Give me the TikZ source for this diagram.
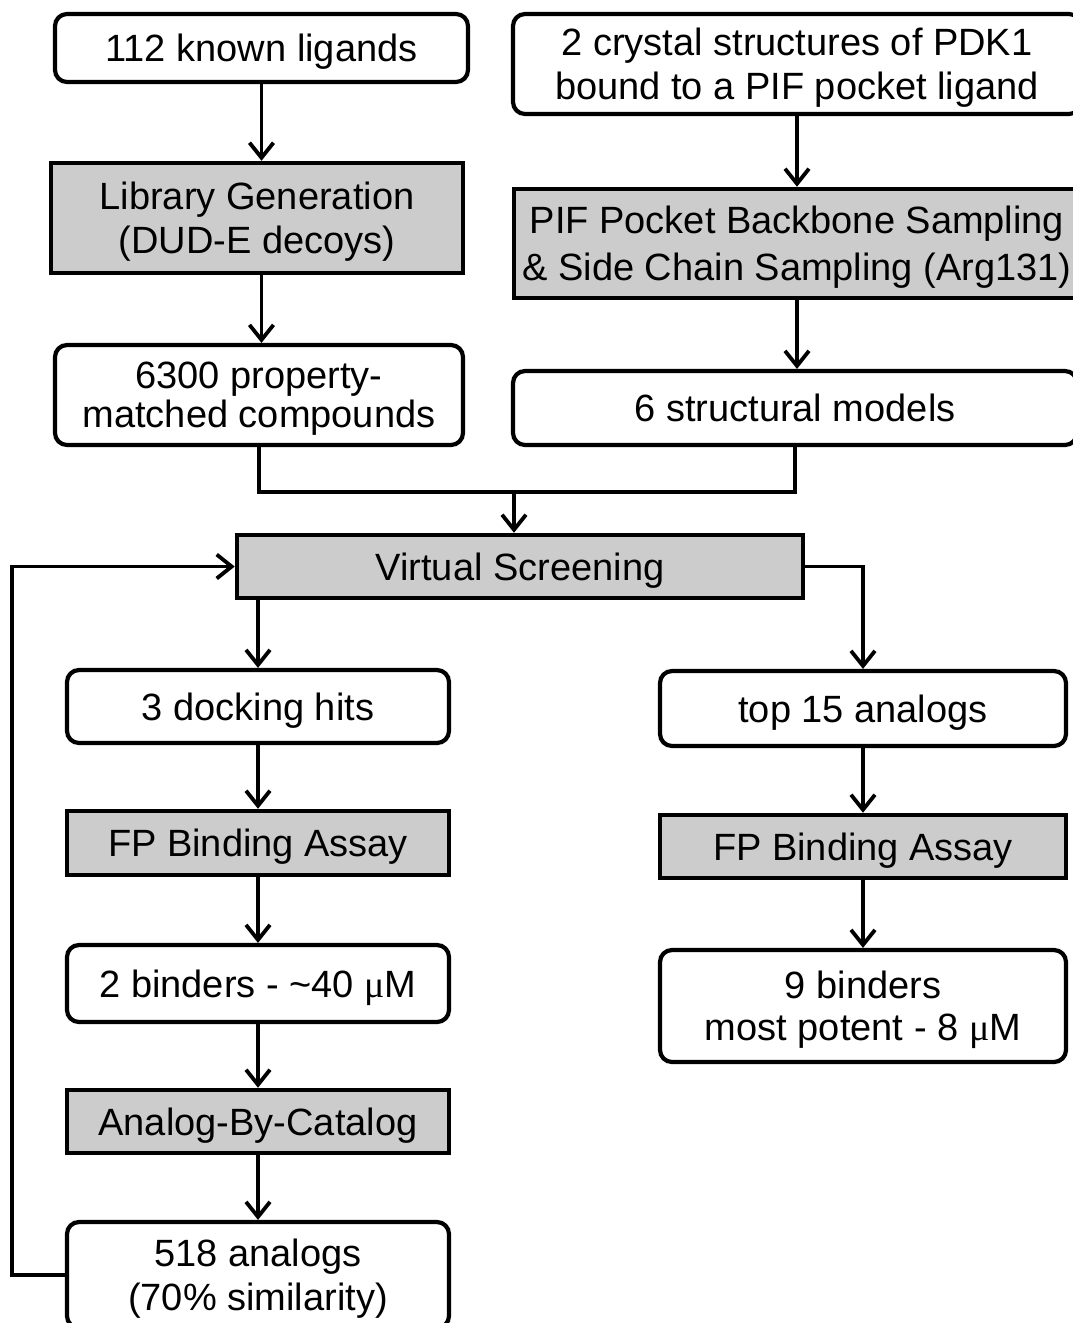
\documentclass[tikz,border=0pt]{standalone}
\usepackage{fontspec}
\setmainfont{Liberation Sans}
\newfontfamily\mufont{Liberation Serif}
\usetikzlibrary{arrows.meta}
\definecolor{boxgray}{RGB}{204,204,204}
\newcommand{\lastln}[1]{\raisebox{0pt}[\height][0pt]{#1}}
\begin{document}
\begin{tikzpicture}[x=1pt,y=-1pt,
  every node/.style={font=\fontsize{38}{44}\selectfont, inner sep=0pt, align=center},
  rbox/.style={draw, line width=4.2pt, rounded corners=12pt, fill=white},
  gbox/.style={draw, line width=4.5pt, fill=boxgray},
  conn/.style={line width=3.8pt, line join=miter},
  arr/.style={conn, -{Straight Barb[length=15pt,width=24pt]}}]
\fill[white] (0,0) rectangle (1072,1323);
\useasboundingbox (0,0) rectangle (1072,1323);

% top row
\node[rbox, minimum width=413pt, minimum height=68pt] (n1) at (261.5,48) {\lastln{112 known ligands}};
\node[rbox, minimum width=568pt, minimum height=100pt] (n2) at (797,64) {2 crystal structures of PDK1\\\lastln{bound to a PIF pocket ligand}};

\node[gbox, minimum width=412pt, minimum height=110pt] (lib) at (257,218) {Library Generation\\\lastln{(DUD-E decoys)}};
\node[gbox, minimum width=566pt, minimum height=109pt] (pif) at (797,243.5) {PIF Pocket Backbone Sampling\\[3pt]\lastln{\& Side Chain Sampling (Arg131)}};

\node[rbox, minimum width=408pt, minimum height=100pt] (n6300) at (259,395) {6300 property-\\[-5pt]\lastln{matched compounds}};
\node[rbox, minimum width=564pt, minimum height=74pt] (n6s) at (795,408) {\lastln{6 structural models}};

\coordinate (mj) at (514,492);

\node[gbox, minimum width=566pt, minimum height=63pt] (vs) at (520,566.5) {\lastln{Virtual Screening}};

% left column
\node[rbox, minimum width=382pt, minimum height=73pt] (dock) at (258,706.5) {\lastln{3 docking hits}};
\node[gbox, minimum width=382pt, minimum height=64pt] (fpL) at (258,843) {\lastln{FP Binding Assay}};
\node[rbox, minimum width=382pt, minimum height=77pt] (bind2) at (258,983.5) {\lastln{2 binders - \textasciitilde40 {\mufont μ}M}};
\node[gbox, minimum width=382pt, minimum height=63pt] (abc) at (258,1121.5) {\lastln{Analog-By-Catalog}};
\node[rbox, minimum width=382pt, minimum height=106pt] (a518) at (258,1275) {518 analogs\\\lastln{(70\% similarity)}};

% right column
\node[rbox, minimum width=406pt, minimum height=75pt] (top15) at (863,708.5) {\lastln{top 15 analogs}};
\node[gbox, minimum width=406pt, minimum height=63pt] (fpR) at (863,846.5) {\lastln{FP Binding Assay}};
\node[rbox, minimum width=406pt, minimum height=112pt] (bind9) at (863,1006) {9 binders\\[-2pt]\lastln{most potent - 8 {\mufont μ}M}};

% connectors
\draw[arr] (n1.south) -- (n1.south |- lib.north);
\draw[arr] (n2.south) -- (n2.south |- pif.north);
\draw[arr] (lib.south -| n1.south) -- (n1.south |- n6300.north);
\draw[arr] (pif.south) -- (pif.south |- n6s.north);
\draw[conn] (n6300.south) |- (mj) -| (n6s.south);
\draw[arr] (mj) -- (mj |- vs.north);

\draw[arr] (vs.south -| dock.north) -- (dock.north);
\draw[arr] (vs.east) -| (top15.north);
\draw[arr] (dock.south) -- (fpL.north);
\draw[arr] (fpL.south) -- (bind2.north);
\draw[arr] (bind2.south) -- (abc.north);
\draw[arr] (abc.south) -- (a518.north);
\draw[arr] (a518.west) -- ++(-53,0) |- (vs.west);

\draw[arr] (top15.south) -- (fpR.north);
\draw[arr] (fpR.south) -- (bind9.north);
\end{tikzpicture}
\end{document}
